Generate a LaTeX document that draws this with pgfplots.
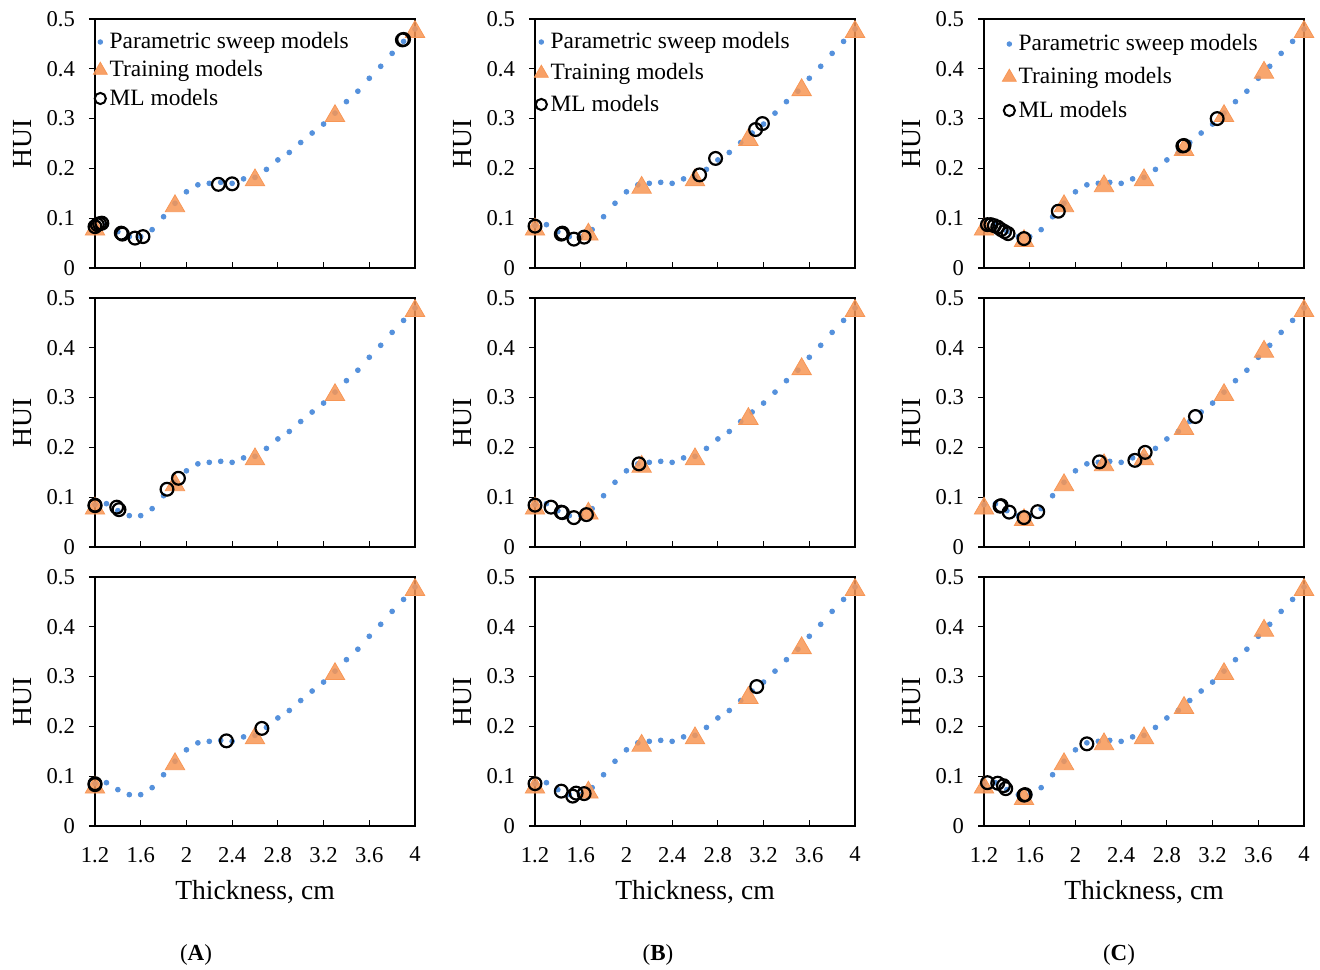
\documentclass[border=0pt]{standalone}
\usepackage{pgfplots}
\pgfplotsset{compat=1.18}
\usepackage{pgfplotstable}
\usepackage{fontspec}
\setmainfont{Liberation Serif}
\definecolor{sweep}{RGB}{85,145,220}
\definecolor{train}{RGB}{247,150,85}

\pgfplotstableread{
x y
1.2 0.085
1.3 0.087
1.4 0.073
1.5 0.063
1.6 0.063
1.7 0.077
1.8 0.103
1.9 0.130
2.0 0.153
2.1 0.167
2.2 0.170
2.3 0.172
2.4 0.170
2.5 0.179
2.6 0.182
2.7 0.198
2.8 0.217
2.9 0.232
3.0 0.252
3.1 0.271
3.2 0.289
3.3 0.311
3.4 0.334
3.5 0.355
3.6 0.381
3.7 0.405
3.8 0.431
3.9 0.455
4.0 0.480
}\sweeptab

\pgfplotstableread{
x y
1.2 0.083
1.9 0.130
2.6 0.182
3.3 0.311
4.0 0.480
}\trainA
\pgfplotstableread{
x y
1.2 0.083
1.667 0.073
2.133 0.167
2.6 0.182
3.067 0.263
3.533 0.363
4.0 0.480
}\trainB
\pgfplotstableread{
x y
1.2 0.083
1.55 0.060
1.9 0.130
2.25 0.170
2.6 0.182
2.95 0.243
3.3 0.311
3.65 0.398
4.0 0.480
}\trainC

\pgfplotstableread{
x y
1.2 0.083
1.22 0.087
1.24 0.089
1.26 0.090
1.43 0.070
1.44 0.068
1.55 0.060
1.62 0.063
2.28 0.168
2.40 0.169
3.89 0.458
3.90 0.459
}\mlAa
\pgfplotstableread{
x y
1.2 0.084
1.43 0.068
1.44 0.070
1.54 0.058
1.63 0.062
2.64 0.187
2.78 0.220
3.13 0.278
3.19 0.290
}\mlBa
\pgfplotstableread{
x y
1.23 0.087
1.26 0.087
1.29 0.085
1.32 0.082
1.35 0.077
1.38 0.073
1.41 0.069
1.55 0.059
1.85 0.114
2.94 0.245
2.95 0.246
3.24 0.300
}\mlCa
\pgfplotstableread{
x y
1.2 0.083
1.2 0.084
1.39 0.080
1.41 0.075
1.83 0.116
1.93 0.138
}\mlAb
\pgfplotstableread{
x y
1.2 0.084
1.34 0.080
1.43 0.070
1.44 0.069
1.54 0.059
1.65 0.065
2.11 0.167
}\mlBb
\pgfplotstableread{
x y
1.34 0.082
1.35 0.083
1.42 0.070
1.55 0.059
1.67 0.071
2.21 0.171
2.52 0.174
2.61 0.190
3.05 0.262
}\mlCb
\pgfplotstableread{
x y
1.2 0.083
1.2 0.085
2.35 0.171
2.66 0.196
}\mlAc
\pgfplotstableread{
x y
1.2 0.085
1.43 0.070
1.53 0.060
1.56 0.066
1.63 0.065
3.14 0.280
}\mlBc
\pgfplotstableread{
x y
1.23 0.087
1.32 0.086
1.37 0.081
1.39 0.075
1.55 0.062
1.56 0.063
2.10 0.165
}\mlCc

\pgfplotsset{
  hui/.style={
    scale only axis, width=160pt, height=124.5pt,
    anchor=south west,
    xmin=1.2, xmax=4, ymin=0, ymax=0.5,
    xtick={1.2,1.6,2,2.4,2.8,3.2,3.6,4},
    ytick={0,0.1,0.2,0.3,0.4,0.5},
    clip=false,
    tick pos=left,
    tick align=inside,
    major tick length=3pt,
    axis line style={line width=0.9pt},
    tick style={black, line width=0.6pt},
    ytick style={xshift=-3pt},
    /pgf/number format/assume math mode=true,
    tick label style={font=\fontsize{11.3}{13}\selectfont},
    yticklabel style={xshift=-6.5pt},
    xticklabel style={yshift=-7pt},
    ylabel={HUI},
    ylabel style={at={(axis description cs:-0.225,0.5)}, anchor=center, font=\fontsize{13.8}{16}\selectfont},
    xlabel style={at={(axis description cs:0.5,0)}, anchor=center, yshift=-33pt, font=\fontsize{13.8}{16}\selectfont},
    legend style={draw=none, fill=none, at={(0,1)}, anchor=north west,
      font=\fontsize{11.7}{14}\selectfont, inner xsep=0pt, inner ysep=2pt,
      nodes={inner xsep=1.2pt},
      cells={anchor=west}},
    legend image code/.code={\draw[#1] plot coordinates {(0pt,0pt)};},
  },
  noxlab/.style={xticklabels={}},
  sweepplot/.style={only marks, mark=*, mark size=1.2pt, color=sweep, draw=none, fill=sweep},
  trainplot/.style={only marks, mark=triangle*, mark size=5.6pt, color=train, draw=none, fill=train, fill opacity=0.85, mark options={yshift=-1.4pt}},
  mlplot/.style={only marks, mark=o, mark size=3.2pt, color=black, line width=1.1pt},
}

\newcommand{\panel}[2]{%
  \addplot[sweepplot, forget plot] table {\sweeptab};
  \addplot[trainplot, forget plot] table {#1};
  \addplot[mlplot, forget plot] table {#2};
}
\newcommand{\legimg}{%
  \addlegendimage{only marks, mark=*, mark size=1.15pt, color=sweep}
  \addlegendentry{Parametric sweep models}
  \addlegendimage{only marks, mark=triangle*, mark size=4pt, color=train, draw=none, fill=train, fill opacity=0.9}
  \addlegendentry{Training models}
  \addlegendimage{only marks, mark=o, mark size=2.8pt, color=black, line width=1pt}
  \addlegendentry{ML models}
}

\begin{document}
\begin{tikzpicture}
% Row 1
\begin{axis}[hui, noxlab, at={(47.5pt,350.5pt)}, legend style={xshift=-1pt, yshift=-2.5pt, row sep=0.5pt}]
\legimg
\panel{\trainA}{\mlAa}
\end{axis}
\begin{axis}[hui, noxlab, at={(267.5pt,350.5pt)}, legend style={xshift=-0.5pt, yshift=-2.5pt, row sep=2pt}]
\legimg
\panel{\trainB}{\mlBa}
\end{axis}
\begin{axis}[hui, noxlab, at={(492pt,350.5pt)}, legend style={xshift=9pt, yshift=-3.5pt, row sep=3pt}]
\legimg
\panel{\trainC}{\mlCa}
\end{axis}
% Row 2
\begin{axis}[hui, noxlab, at={(47.5pt,211pt)}]
\panel{\trainA}{\mlAb}
\end{axis}
\begin{axis}[hui, noxlab, at={(267.5pt,211pt)}]
\panel{\trainB}{\mlBb}
\end{axis}
\begin{axis}[hui, noxlab, at={(492pt,211pt)}]
\panel{\trainC}{\mlCb}
\end{axis}
% Row 3
\begin{axis}[hui, at={(47.5pt,71.5pt)}, xlabel={Thickness, cm}]
\panel{\trainA}{\mlAc}
\end{axis}
\begin{axis}[hui, at={(267.5pt,71.5pt)}, xlabel={Thickness, cm}]
\panel{\trainB}{\mlBc}
\end{axis}
\begin{axis}[hui, at={(492pt,71.5pt)}, xlabel={Thickness, cm}]
\panel{\trainC}{\mlCc}
\end{axis}
\node[font=\fontsize{11.5}{13}\selectfont] at (98pt,7pt) {(\textbf{A})};
\node[font=\fontsize{11.5}{13}\selectfont] at (329pt,7pt) {(\textbf{B})};
\node[font=\fontsize{11.5}{13}\selectfont] at (559.5pt,7pt) {(\textbf{C})};
\pgfresetboundingbox
\path[use as bounding box] (0pt,0pt) rectangle (660pt,484.5pt);
\end{tikzpicture}
\end{document}
